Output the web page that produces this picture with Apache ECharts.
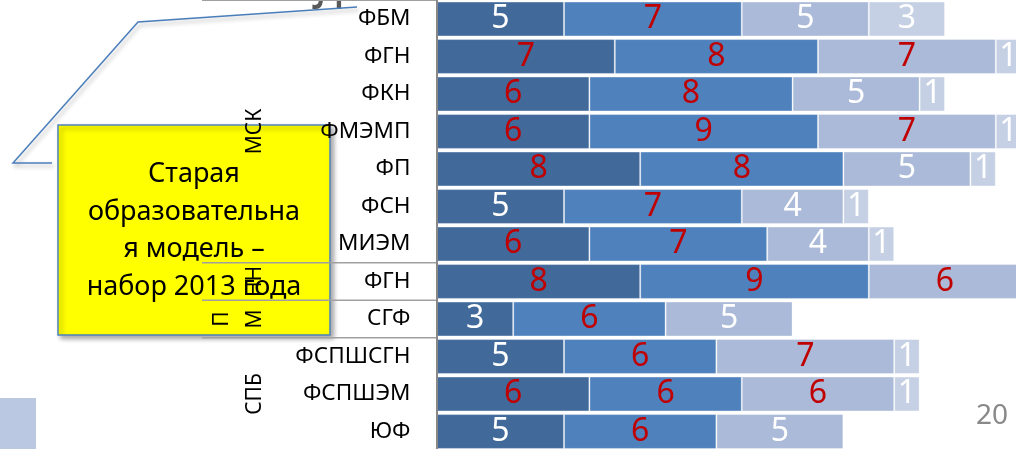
<!DOCTYPE html>
<html>
<head>
<meta charset="utf-8">
<script src="https://cdn.jsdelivr.net/npm/echarts@6/dist/echarts.min.js"></script>
<style>
html, body { margin: 0; padding: 0; background: #fff; }
#main { width: 1016px; height: 449px; }
</style>
</head>
<body>
<div id="main"></div>
<script>
// факультеты (сверху вниз)
var categories = ['ФБМ', 'ФГН', 'ФКН', 'ФМЭМП', 'ФП', 'ФСН', 'МИЭМ', 'ФГН', 'СГФ', 'ФСПШСГН', 'ФСПШЭМ', 'ЮФ'];
// сегменты столбцов
var seg1 = [5, 7, 6, 6, 8, 5, 6, 8, 3, 5, 6, 5];
var seg2 = [7, 8, 8, 9, 8, 7, 7, 9, 6, 6, 6, 6];
var seg3 = [5, 7, 5, 7, 5, 4, 4, 6, 5, 7, 6, 5];
var seg4 = [3, 1, 1, 1, 1, 1, 1, 0, 0, 1, 1, 0];
// группы (кампусы)
var groupNames = ['МСК', 'НН', 'П\nМ', 'СПБ'];
var groupSizes = [7, 1, 1, 3];
var calloutText = 'Старая\nобразовательна\nя модель –\nнабор 2013 года';
var pageNo = '20';

var FONT = 'Noto Sans';
var segColors = ['#416A9B', '#4F81BD', '#AABAD8', '#C5D0E4'];

function makeData(arr) {
    return arr.map(function (v) {
        return {
            value: v,
            label: { show: v > 0, color: v >= 6 ? '#C00000' : '#FFFFFF' }
        };
    });
}

var series = [seg1, seg2, seg3, seg4].map(function (arr, i) {
    return {
        type: 'bar',
        stack: 'all',
        barCategoryGap: '7%',
        data: makeData(arr),
        itemStyle: { color: segColors[i], borderColor: 'rgba(255,255,255,0.35)', borderWidth: 1 },
        label: { show: true, position: 'inside', fontSize: 32, fontFamily: FONT },
        silent: true
    };
});

var option = {
    animation: false,
    textStyle: { fontFamily: FONT },
    grid: { left: 437, top: 0.25, width: 25.4 * 24, height: 450, containLabel: false, outerBoundsMode: 'none' },
    xAxis: { type: 'value', min: 0, max: 24, show: false },
    yAxis: {
        type: 'category',
        inverse: true,
        data: categories,
        offset: 1.5,
        z: 5,
        axisLine: { show: true, lineStyle: { color: '#888888', width: 2 } },
        axisTick: { show: false },
        axisLabel: { color: '#000', fontSize: 22.5, margin: 25, fontFamily: FONT }
    },
    series: series
};

var chart = echarts.init(document.getElementById('main'));
chart.setOption(option);

// координаты строк из оси
var y0 = chart.convertToPixel({ yAxisIndex: 0 }, 0);
var y1 = chart.convertToPixel({ yAxisIndex: 0 }, 1);
var band = y1 - y0;
var tableLeft = 202, tableRight = 436;

var g = [];
// выноска
g.push({
    type: 'polyline', z: 1,
    shape: { points: [[52, 163], [13, 163], [138, 22], [357, 7]] },
    style: { stroke: '#4A7EBB', lineWidth: 1.5, fill: null, shadowBlur: 4, shadowOffsetX: 2, shadowOffsetY: 3, shadowColor: 'rgba(0,0,0,0.3)' }
});
g.push({
    type: 'rect', z: 1,
    shape: { x: 58, y: 125, width: 272, height: 210 },
    style: { fill: '#FFFF00', stroke: '#4F81BD', lineWidth: 1.5, shadowBlur: 5, shadowOffsetX: 3, shadowOffsetY: 3, shadowColor: 'rgba(0,0,0,0.35)' }
});
g.push({
    type: 'text', z: 2, x: 194, y: 231,
    style: { text: calloutText, fill: '#000', font: '27px "' + FONT + '"', align: 'center', verticalAlign: 'middle', lineHeight: 37.5 }
});

// линии таблицы и подписи групп
var start = 0;
var lineYs = [y0 - band / 2];
groupSizes.forEach(function (n, gi) {
    var top = chart.convertToPixel({ yAxisIndex: 0 }, start) - band / 2;
    var bottom = chart.convertToPixel({ yAxisIndex: 0 }, start + n - 1) + band / 2;
    lineYs.push(bottom);
    var lines = groupNames[gi].split('\n').length;
    g.push({
        type: 'text', z: 4,
        x: 255 - (lines - 1) * 16.5, y: (top + bottom) / 2,
        rotation: Math.PI / 2,
        style: { text: groupNames[gi], fill: '#000', font: '21px "' + FONT + '"', align: 'center', verticalAlign: 'middle', lineHeight: 33 }
    });
    start += n;
});
lineYs.forEach(function (y) {
    g.push({
        type: 'line', z: 4,
        shape: { x1: tableLeft, y1: y, x2: tableRight, y2: y },
        style: { stroke: '#A0A0A0', lineWidth: 1.5 }
    });
});

// обрезанный заголовок сверху и прочие элементы слайда
g.push({
    type: 'text', z: 0, x: 329, y: 19,
    style: { text: 'Л', fill: '#595959', font: '48px "' + FONT + '"', align: 'center', verticalAlign: 'bottom' }
});
g.push({ type: 'rect', z: 0, shape: { x: 0, y: 398, width: 36, height: 51 }, style: { fill: '#BAC8E2' } });
g.push({
    type: 'text', z: 0, x: 992, y: 416,
    style: { text: pageNo, fill: '#898989', font: '28px "' + FONT + '"', align: 'center', verticalAlign: 'middle' }
});

chart.setOption({ graphic: g });
</script>
</body>
</html>
